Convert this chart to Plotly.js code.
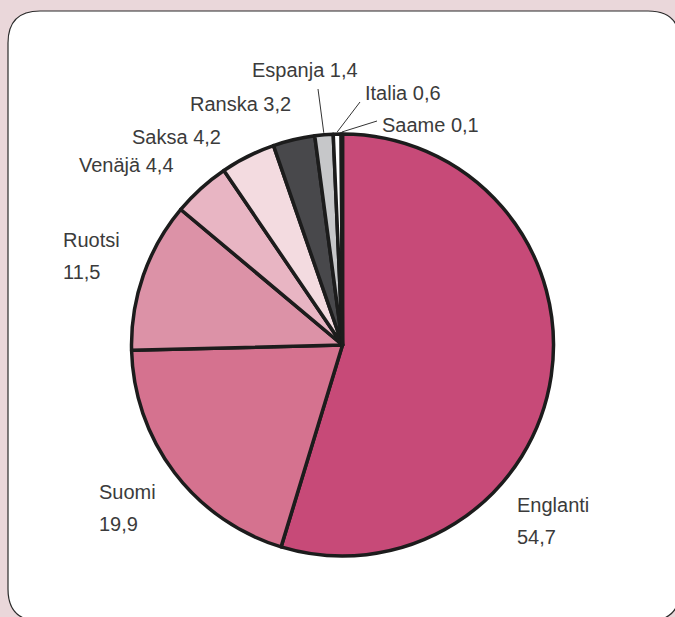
<!DOCTYPE html>
<html>
<head>
<meta charset="utf-8">
<script src="https://cdn.plot.ly/plotly-3.0.1.min.js"></script>
<style>html,body{margin:0;padding:0;background:#ead7da;}#chart{width:675px;height:617px;}</style>
</head>
<body>
<div id="chart"></div>
<script>
// ---- data ----
const languages = ["Englanti", "Suomi", "Ruotsi", "Venäjä", "Saksa", "Ranska", "Espanja", "Italia", "Saame"];
const shares = [54.7, 19.9, 11.5, 4.4, 4.2, 3.2, 1.4, 0.6, 0.1];
const sliceColors = ["#c74a78", "#d5728f", "#dc92a7", "#e8b5c3", "#f3dbe0", "#48484b", "#c6c7c9", "#ffffff", "#ffffff"];

// ---- layout helpers ----
const W = 675, H = 617;
const px = x => x / W;
const py = y => 1 - y / H;
const cx = 342.5, cy = 345, rLine = 211, rOuter = 213;

const fmt = v => v.toFixed(1).replace(".", ",");

// label placement (pixels): [left x, centre y, two-line?]
const labelPlace = [
  [515, 505, true],
  [97, 492, true],
  [61, 240, true],
  [77, 165, false],
  [130, 137, false],
  [188, 104, false],
  [250, 70, false],
  [363, 93, false],
  [380, 125, false]
];
// leader start points (pixels) for the small slices
const leaderStart = {6: [318, 89], 7: [360, 102], 8: [377, 121]};

const font = {family: "Liberation Sans, Arial, sans-serif", size: 20, color: "#3b3b3b"};
const annotations = [];
const shapes = [];

// panel with rounded corners
const L = 8, T = 11, R = 680, B = 621, rc = 32;
const panelPath = [
  `M ${px(L + rc)} ${py(T)}`,
  `L ${px(R - rc)} ${py(T)}`,
  `Q ${px(R)} ${py(T)} ${px(R)} ${py(T + rc)}`,
  `L ${px(R)} ${py(B - rc)}`,
  `Q ${px(R)} ${py(B)} ${px(R - rc)} ${py(B)}`,
  `L ${px(L + rc)} ${py(B)}`,
  `Q ${px(L)} ${py(B)} ${px(L)} ${py(B - rc)}`,
  `L ${px(L)} ${py(T + rc)}`,
  `Q ${px(L)} ${py(T)} ${px(L + rc)} ${py(T)}`,
  "Z"
].join(" ");
shapes.push({type: "path", xref: "paper", yref: "paper", path: panelPath,
  fillcolor: "#ffffff", line: {color: "#2b2b2b", width: 1.2}, layer: "below"});

const total = shares.reduce((a, b) => a + b, 0);
let cum = 0;
languages.forEach((name, i) => {
  const mid = (cum + shares[i] / 2) / total * 2 * Math.PI;
  cum += shares[i];
  const [lx, ly, two] = labelPlace[i];
  if (two) {
    annotations.push({xref: "paper", yref: "paper", x: px(lx), y: py(ly), xanchor: "left", yanchor: "middle",
      text: name, showarrow: false, font: font});
    annotations.push({xref: "paper", yref: "paper", x: px(lx), y: py(ly + 32), xanchor: "left", yanchor: "middle",
      text: fmt(shares[i]), showarrow: false, font: font});
  } else {
    annotations.push({xref: "paper", yref: "paper", x: px(lx), y: py(ly), xanchor: "left", yanchor: "middle",
      text: name + " " + fmt(shares[i]), showarrow: false, font: font});
  }
  if (leaderStart[i]) {
    const ex = cx + rOuter * Math.sin(mid), ey = cy - rOuter * Math.cos(mid);
    const [sx, sy] = leaderStart[i];
    shapes.push({type: "line", xref: "paper", yref: "paper", x0: px(sx), y0: py(sy), x1: px(ex), y1: py(ey),
      line: {color: "#333333", width: 1}});
  }
});

const trace = {
  type: "pie",
  labels: languages,
  values: shares,
  sort: false,
  direction: "clockwise",
  rotation: 0,
  textinfo: "none",
  hoverinfo: "skip",
  marker: {colors: sliceColors, line: {color: "#1c1c1c", width: 3.5}},
  domain: {x: [px(cx - rLine), px(cx + rLine)], y: [py(cy + rLine), py(cy - rLine)]},
  showlegend: false
};

const layout = {
  width: W, height: H,
  margin: {l: 0, r: 0, t: 0, b: 0},
  paper_bgcolor: "#ead7da",
  showlegend: false,
  shapes: shapes,
  annotations: annotations
};

Plotly.newPlot("chart", [trace], layout, {displayModeBar: false, staticPlot: true});
</script>
</body>
</html>
